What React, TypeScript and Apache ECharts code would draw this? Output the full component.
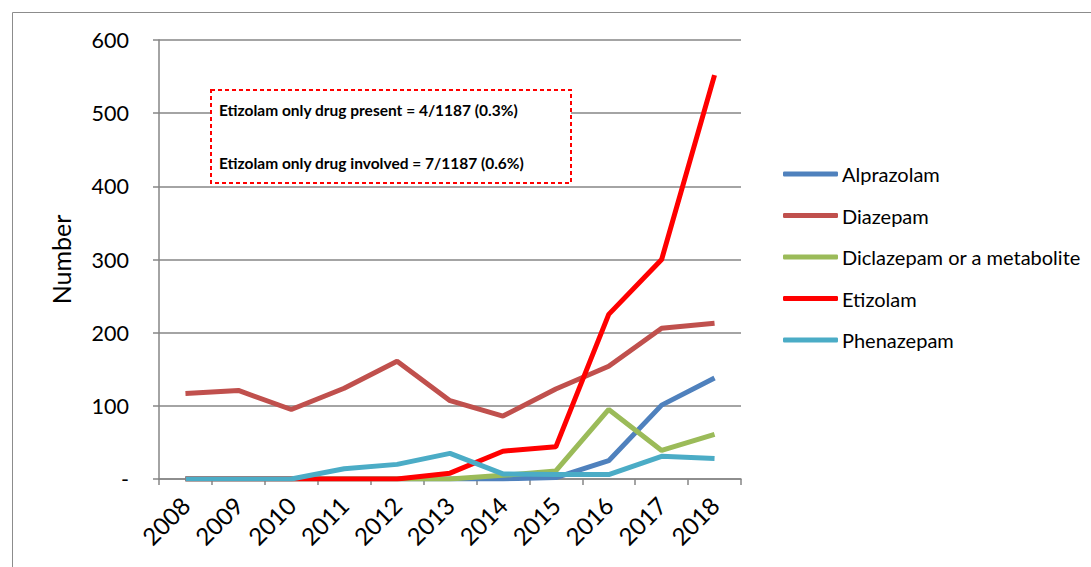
import React, { useEffect, useRef } from "react";
import * as echarts from "echarts";

const years = ["2008", "2009", "2010", "2011", "2012", "2013", "2014", "2015", "2016", "2017", "2018"];
const alprazolam = [0, 0, 0, 0, 0, 0, 0, 2, 25, 101, 138];
const diazepam = [117, 121, 95, 124, 161, 107, 86, 123, 154, 206, 213];
const diclazepam = [0, 0, 0, 0, 0, 0, 5, 11, 95, 39, 61];
const etizolam = [0, 0, 0, 0, 0, 8, 38, 44, 225, 300, 552];
const phenazepam = [0, 0, 0, 14, 20, 35, 7, 6, 6, 31, 28];
const seriesNames = ["Alprazolam", "Diazepam", "Diclazepam or a metabolite", "Etizolam", "Phenazepam"];
const seriesColors = ["#4F81BD", "#C0504D", "#9BBB59", "#FF0000", "#4BACC6"];
const noteLines = ["Etizolam only drug present = 4/1187 (0.3%)", "Etizolam only drug involved = 7/1187 (0.6%)"];

const FONT = "Lato, 'Open Sans', sans-serif";

export default function App() {
  const ref = useRef<HTMLDivElement>(null);
  useEffect(() => {
    if (!ref.current) return;
    const chart = echarts.init(ref.current, undefined, { renderer: "svg" });
    const data = [alprazolam, diazepam, diclazepam, etizolam, phenazepam];
    chart.setOption({
      animation: false,
      backgroundColor: "#ffffff",
      textStyle: { fontFamily: FONT },
      grid: { left: 159, right: 350, top: 40, bottom: 88 },
      legend: {
        orient: "vertical",
        left: 783,
        top: 163.5,
        padding: 0,
        itemWidth: 55,
        itemHeight: 5,
        itemGap: 20.5,
        icon: "roundRect",
        textStyle: { fontSize: 20, color: "#000", fontFamily: FONT, lineHeight: 21, padding: [0, 0, 0, -1] },
        data: seriesNames,
      },
      xAxis: {
        type: "category",
        data: years,
        boundaryGap: true,
        axisLine: { lineStyle: { color: "#868686", width: 1.5 } },
        axisTick: { show: true, length: 6, lineStyle: { color: "#868686", width: 1.5 } },
        axisLabel: { rotate: 45, fontSize: 24, color: "#000", margin: 22, fontFamily: FONT },
      },
      yAxis: {
        type: "value",
        min: 0,
        max: 600,
        interval: 100,
        name: "Number",
        nameLocation: "middle",
        nameGap: 86,
        nameTextStyle: { fontSize: 25, color: "#000", fontFamily: FONT },
        axisLine: { show: true, lineStyle: { color: "#868686", width: 1.5 } },
        axisTick: { show: true, length: 6, lineStyle: { color: "#868686", width: 1.5 } },
        splitLine: { lineStyle: { color: "#868686", width: 1.5 } },
        axisLabel: {
          fontSize: 21.5,
          color: "#000",
          margin: 30,
          fontFamily: FONT,
          formatter: (v: number) => (v === 0 ? "-" : String(v)),
        },
      },
      series: seriesNames.map((name, i) => ({
        name,
        type: "line",
        data: data[i],
        symbol: "none",
        lineStyle: { color: seriesColors[i], width: 5 },
        itemStyle: { color: seriesColors[i] },
      })),
      graphic: [
        {
          type: "rect",
          left: 10,
          top: 10,
          shape: { width: 1090, height: 570 },
          style: { fill: "none", stroke: "#8c8c8c", lineWidth: 1 },
          silent: true,
          z: 0,
        },
        {
          type: "rect",
          x: 211,
          y: 90,
          z: 100,
          shape: { x: 0, y: 0, width: 360, height: 93 },
          style: { fill: "#ffffff", stroke: "#FF0000", lineWidth: 2, lineDash: [4, 3] },
        },
        {
          type: "text",
          x: 219,
          y: 110,
          z: 101,
          style: { text: noteLines[0], fontSize: 15.5, fontWeight: "bold", fill: "#000", fontFamily: FONT, verticalAlign: "middle" },
        },
        {
          type: "text",
          x: 219,
          y: 163,
          z: 101,
          style: { text: noteLines[1], fontSize: 15.5, fontWeight: "bold", fill: "#000", fontFamily: FONT, verticalAlign: "middle" },
        },
      ],
    });
    return () => chart.dispose();
  }, []);
  return <div ref={ref} style={{ position: "fixed", left: 0, top: 0, width: 1091, height: 567 }} />;
}
